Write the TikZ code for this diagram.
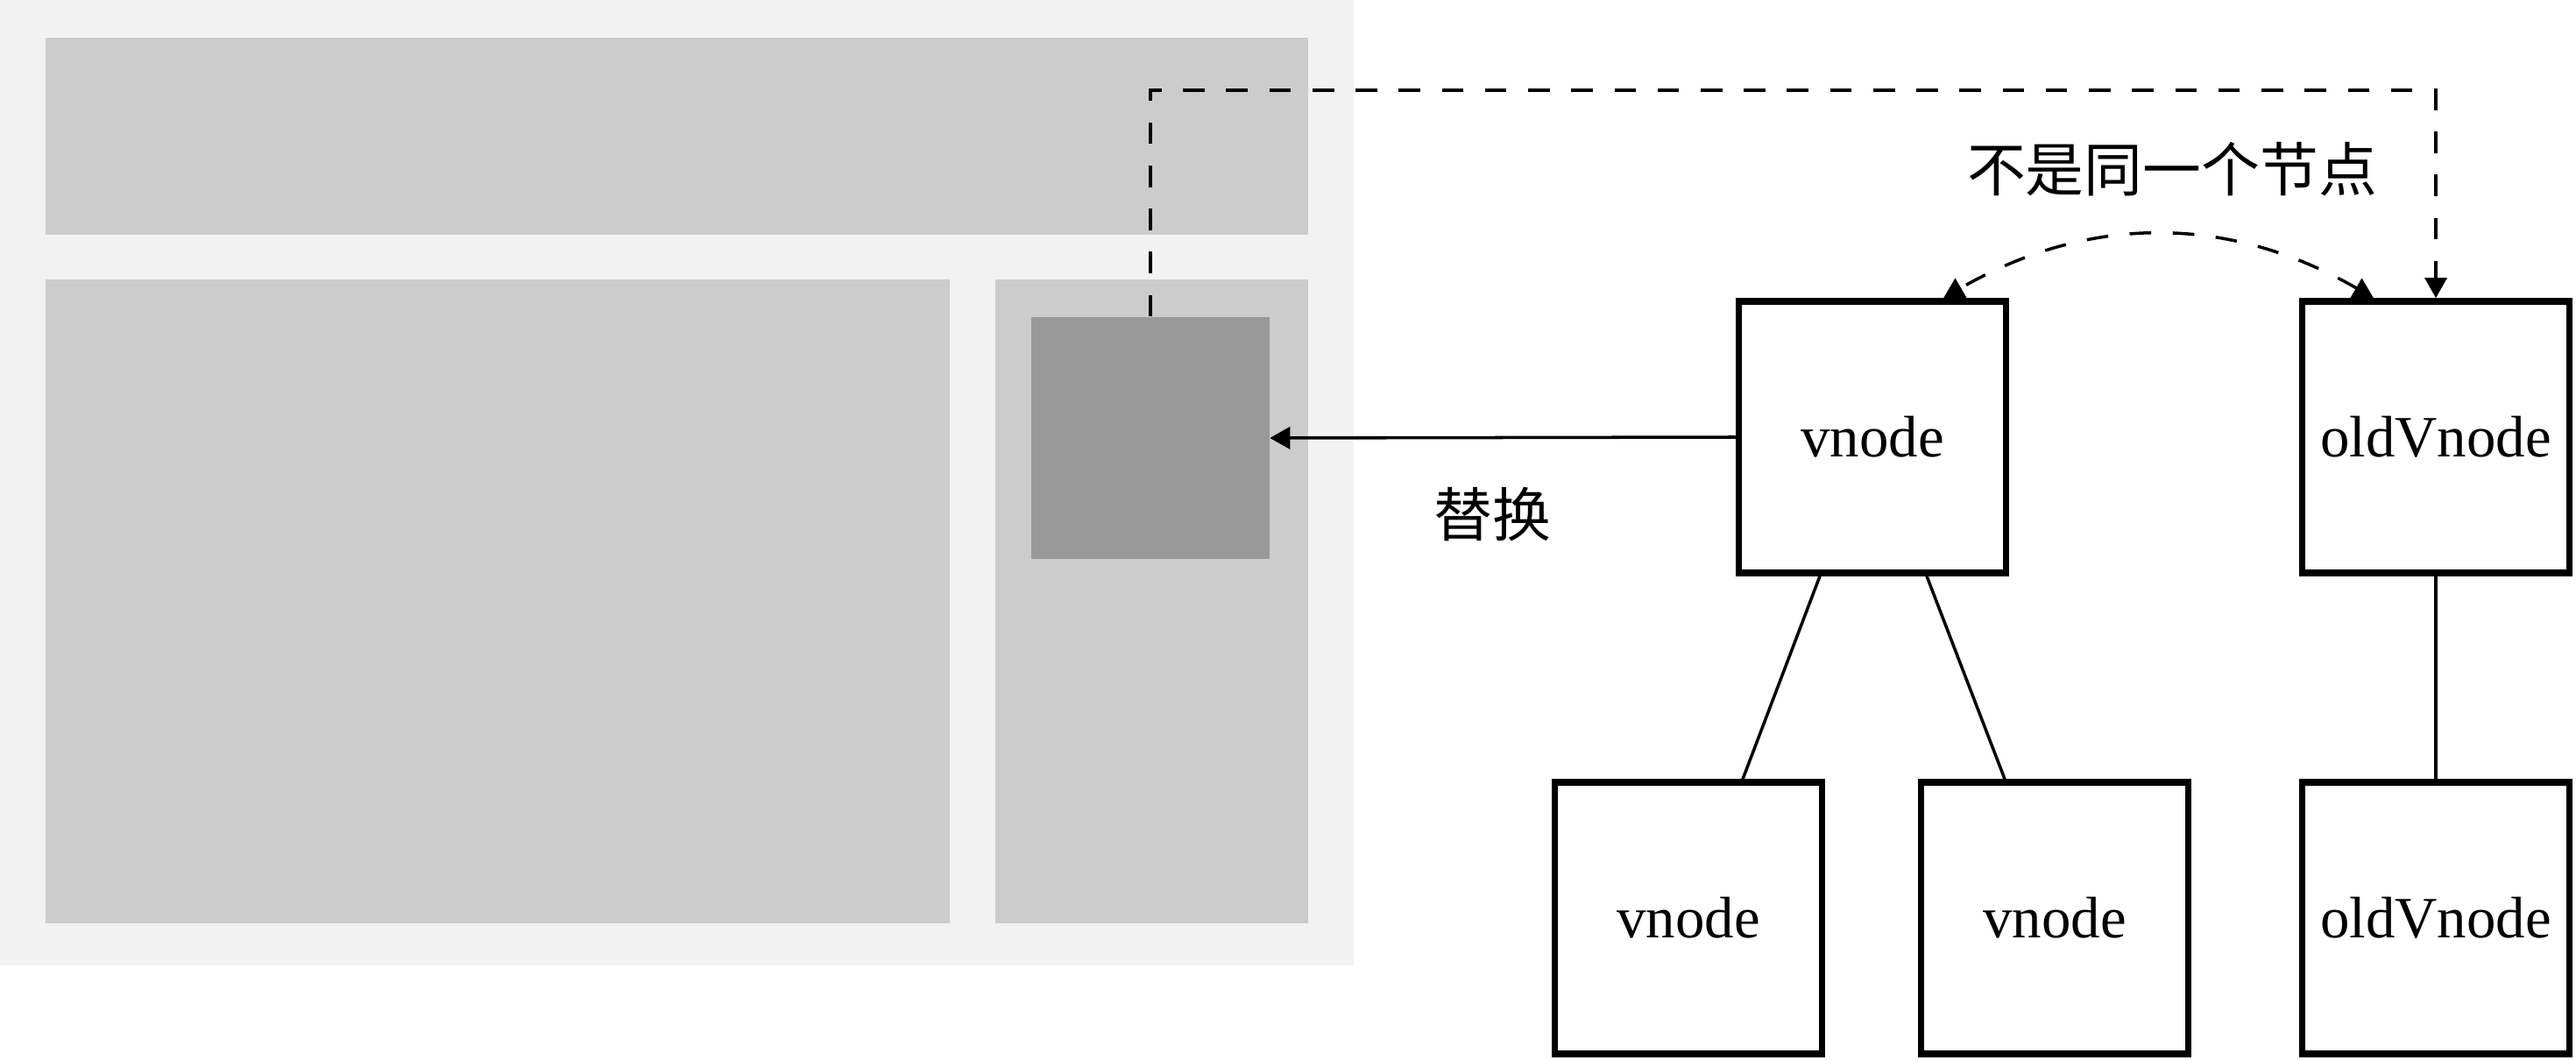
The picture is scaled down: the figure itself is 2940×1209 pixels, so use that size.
\documentclass[tikz,border=0pt]{standalone}
\usepackage{fontspec}
\setmainfont{Liberation Serif}
\newfontfamily\zhfont{Noto Sans CJK SC}
\usetikzlibrary{arrows.meta}
\definecolor{panelbg}{HTML}{F2F2F2}
\definecolor{blockgray}{HTML}{CCCCCC}
\definecolor{slotgray}{HTML}{999999}

\begin{document}
\begin{tikzpicture}[x=0.01cm, y=0.01cm,
    vbox/.style={draw, line width=2.1pt, minimum width=3.05cm, minimum height=3.1cm, inner sep=0pt, font=\fontsize{19}{22}\selectfont},
    link/.style={line width=1pt},
    tip/.style={-{Triangle[length=0.23cm, width=0.25cm]}},
    dashlink/.style={line width=1pt, dash pattern=on 7pt off 7pt},
    zhlabel/.style={font=\fontsize{19}{22}\selectfont\zhfont}]
    \useasboundingbox (0,0) rectangle (2940,1209);

    % page layout (left)
    \fill[panelbg] (0,107) rectangle (1545,1209);
    \fill[blockgray] (52,941) rectangle (1493,1166);
    \fill[blockgray] (52,155) rectangle (1084,890);
    \fill[blockgray] (1136,155) rectangle (1493,890);
    \node[fill=slotgray, minimum width=2.71cm, minimum height=2.76cm, inner sep=0pt] (slot) at (1313,709) {};

    % new and old vnode trees
    \node[vbox] (vtop) at (2137,710) {vnode};
    \node[vbox] (oldtop) at (2780,710) {oldVnode};
    \node[vbox] (vleft) at (1927,161) {vnode};
    \node[vbox] (vright) at (2345,161) {vnode};
    \node[vbox] (oldchild) at (2780,161) {oldVnode};

    \draw[link] ([xshift=-0.6cm]vtop.south) -- ([xshift=0.62cm]vleft.north);
    \draw[link] ([xshift=0.62cm]vtop.south) -- ([xshift=-0.57cm]vright.north);
    \draw[link] (oldtop) -- (oldchild);

    % replace arrow
    \draw[link, tip] (vtop.west) -- (slot.east);
    \node[zhlabel] (swaplabel) at (1703,622) {替换};

    % dashed links
    \coordinate (toprow) at (0,1106);
    \draw[dashlink, tip] (slot.north) |- (oldtop.north |- toprow) -- (oldtop.north);
    \draw[dashlink, {Triangle[length=0.23cm, width=0.25cm]}-{Triangle[length=0.23cm, width=0.25cm]}]
        ([xshift=-0.71cm]oldtop.north) to[bend right=30] ([xshift=0.81cm]vtop.north);
    \node[zhlabel] (samelabel) at (2479,1016) {不是同一个节点};
\end{tikzpicture}
\end{document}
